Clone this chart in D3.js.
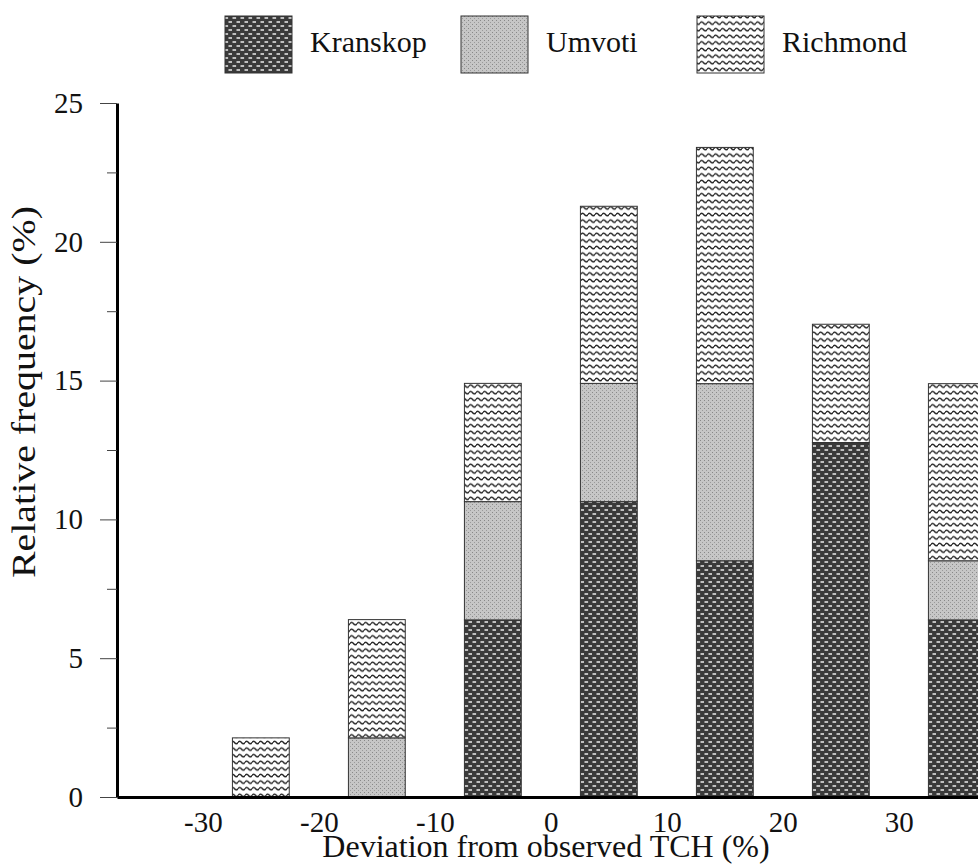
<!DOCTYPE html>
<html>
<head>
<meta charset="utf-8">
<script src="https://cdn.jsdelivr.net/npm/d3@7"></script>
<style>
  html, body { margin: 0; padding: 0; background: #fff; }
  svg { display: block; }
  svg text { font-family: "Liberation Serif", "Times New Roman", serif !important; }
</style>
</head>
<body>
<svg id="chart" width="978" height="867"></svg>
<script>
// ---- data ----
const bins = [-25, -15, -5, 5, 15, 25, 35];
const kranskop = [0, 0, 6.38, 10.64, 8.51, 12.77, 6.38];
const umvoti   = [0, 2.13, 4.26, 4.26, 6.38, 0, 2.13];
const richmond = [2.13, 4.26, 4.26, 6.38, 8.51, 4.26, 6.38];
const seriesNames = ["Kranskop", "Umvoti", "Richmond"];
const xTickValues = [-30, -20, -10, 0, 10, 20, 30];
const yMajorTicks = [0, 5, 10, 15, 20, 25];
const yMinorTicks = [2.5, 7.5, 12.5, 17.5, 22.5];
const binWidth = 4.9;

const svg = d3.select("#chart");
svg.append("rect").attr("width", 978).attr("height", 867).attr("fill", "#fff");

// ---- patterns ----
const defs = svg.append("defs");
// Kranskop: dark with white brick dashes
const pK = defs.append("pattern").attr("id", "pK").attr("patternUnits", "userSpaceOnUse")
  .attr("width", 8).attr("height", 8);
pK.append("rect").attr("width", 8).attr("height", 8).attr("fill", "#3a3a3a");
pK.append("rect").attr("x", 0.5).attr("y", 1.2).attr("width", 3.6).attr("height", 1.6).attr("fill", "#e0e0e0");
pK.append("rect").attr("x", 4.5).attr("y", 5.2).attr("width", 3.6).attr("height", 1.6).attr("fill", "#e0e0e0");
// Umvoti: light stippled gray
const pU = defs.append("pattern").attr("id", "pU").attr("patternUnits", "userSpaceOnUse")
  .attr("width", 4).attr("height", 4);
pU.append("rect").attr("width", 4).attr("height", 4).attr("fill", "#c6c6c6");
pU.append("rect").attr("x", 0).attr("y", 0).attr("width", 1).attr("height", 1).attr("fill", "#888");
pU.append("rect").attr("x", 2).attr("y", 2).attr("width", 1).attr("height", 1).attr("fill", "#9a9a9a");
// Richmond: wavy horizontal lines
const pR = defs.append("pattern").attr("id", "pR").attr("patternUnits", "userSpaceOnUse")
  .attr("width", 7).attr("height", 6.6);
pR.append("rect").attr("width", 7).attr("height", 6.6).attr("fill", "#fff");
pR.append("path").attr("d", "M0,3.3 Q1.75,0.9 3.5,3.3 T7,3.3")
  .attr("fill", "none").attr("stroke", "#222").attr("stroke-width", 1.4);
const fills = { Kranskop: "url(#pK)", Umvoti: "url(#pU)", Richmond: "url(#pR)" };

// ---- scales ----
const x = d3.scaleLinear().domain([-37.4, 40]).range([117, 117 + 77.4 * 11.6]);
const y = d3.scaleLinear().domain([0, 25]).range([797, 103]);

// ---- stacked bars ----
const table = bins.map((b, i) => ({ bin: b, Kranskop: kranskop[i], Umvoti: umvoti[i], Richmond: richmond[i] }));
const stacked = d3.stack().keys(seriesNames)(table);

const gBars = svg.append("g");
stacked.forEach(layer => {
  gBars.selectAll(null)
    .data(layer.filter(d => d[1] - d[0] > 0))
    .enter().append("rect")
    .attr("x", d => x(d.data.bin - binWidth / 2))
    .attr("width", d => x(d.data.bin + binWidth / 2) - x(d.data.bin - binWidth / 2))
    .attr("y", d => y(d[1]))
    .attr("height", d => y(d[0]) - y(d[1]))
    .attr("fill", fills[layer.key])
    .attr("stroke", "#333")
    .attr("stroke-width", 1);
});

// ---- axes ----
const fontSize = 29;
const fmt = d => String(d);
const gY = svg.append("g").attr("transform", `translate(${x(-37.4)},0)`)
  .call(d3.axisLeft(y).tickValues(yMajorTicks).tickSize(17).tickSizeOuter(0).tickPadding(17).tickFormat(fmt));
gY.select(".domain").attr("stroke", "#000").attr("stroke-width", 3);
gY.selectAll(".tick line").attr("stroke", "#444").attr("stroke-width", 1);
gY.selectAll(".tick text").attr("font-size", fontSize).attr("fill", "#111");

const gYm = svg.append("g").attr("transform", `translate(${x(-37.4)},0)`)
  .call(d3.axisLeft(y).tickValues(yMinorTicks).tickSize(10).tickFormat(""));
gYm.select(".domain").remove();
gYm.selectAll(".tick line").attr("stroke", "#444").attr("stroke-width", 1);

const gX = svg.append("g").attr("transform", `translate(0,${y(0)})`)
  .call(d3.axisBottom(x).tickValues(xTickValues).tickSize(0).tickSizeOuter(0).tickPadding(14).tickFormat(fmt));
gX.select(".domain").attr("stroke", "#000").attr("stroke-width", 3);
gX.selectAll(".tick text").attr("font-size", fontSize).attr("fill", "#111");

// ---- axis titles ----
svg.append("text")
  .attr("x", 546).attr("y", 857)
  .attr("text-anchor", "middle")
  .attr("font-size", 32).attr("fill", "#111")
  .text("Deviation from observed TCH (%)");

svg.append("text")
  .attr("transform", "translate(35,392) rotate(-90)")
  .attr("text-anchor", "middle")
  .attr("font-size", 33).attr("fill", "#111")
  .attr("textLength", 372).attr("lengthAdjust", "spacingAndGlyphs")
  .text("Relative frequency (%)");

// ---- legend ----
const legend = svg.append("g");
seriesNames.forEach((name, i) => {
  const lx = 225 + i * 236;
  legend.append("rect").attr("x", lx).attr("y", 16).attr("width", 67).attr("height", 57)
    .attr("fill", fills[name]).attr("stroke", "#333").attr("stroke-width", 1);
  legend.append("text").attr("x", lx + 85).attr("y", 52)
    .attr("font-size", 30).attr("fill", "#111").text(name);
});
</script>
</body>
</html>
